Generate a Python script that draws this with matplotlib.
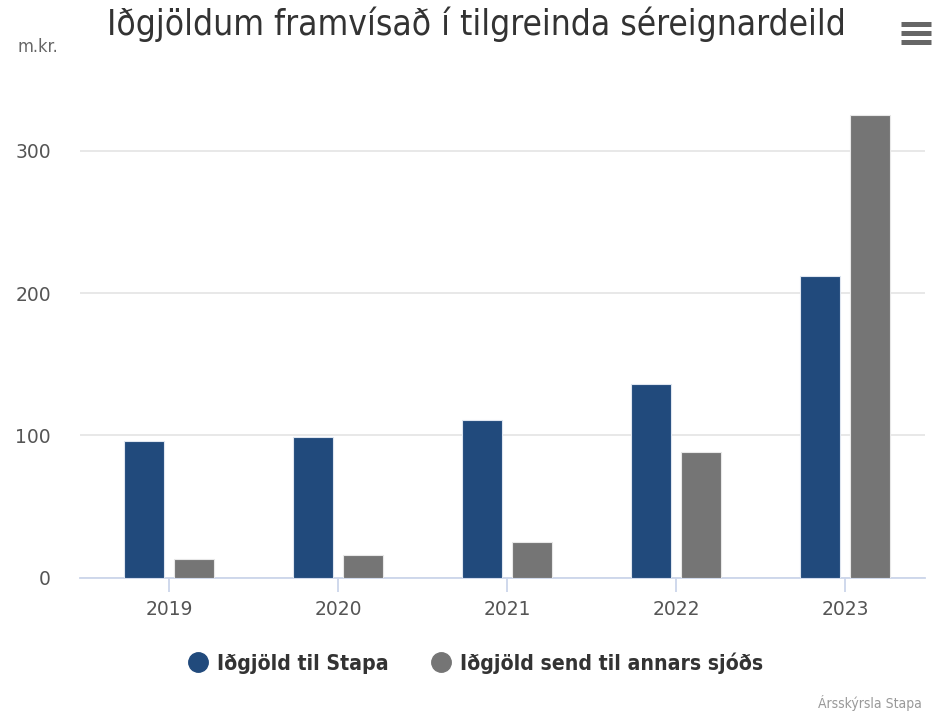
import matplotlib
matplotlib.use('Agg')
import matplotlib.pyplot as plt
import numpy as np
from matplotlib.lines import Line2D

years = ['2019', '2020', '2021', '2022', '2023']
til_stapa = [96, 99, 111, 136, 212]
send_annars = [13, 16, 25, 88, 325]

series_names = ['Iðgjöld til Stapa', 'Iðgjöld send til annars sjóðs']
colors = ['#214a7c', '#757575']

plt.rcParams['font.family'] = ['DejaVu Sans']

fig = plt.figure(figsize=(9.36, 7.16), dpi=100)
ax = fig.add_axes([80 / 936, 1 - 577.7 / 716, 845 / 936, 498 / 716])

x = np.arange(len(years))
w = 0.237
ax.bar(x - 0.15, til_stapa, width=w, color=colors[0], edgecolor='#dfe6f0', linewidth=0.8, zorder=3)
ax.bar(x + 0.15, send_annars, width=w, color=colors[1], edgecolor='#e8e8e8', linewidth=0.8, zorder=3)

ax.set_xlim(-0.527, len(years) - 0.527)
ax.set_ylim(0, 350)
ax.set_yticks([0, 100, 200, 300])
ax.set_xticks(x)
ax.set_xticklabels(years, fontsize=13.5, color='#555555')
ax.set_yticklabels(['0', '100', '200', '300'], fontsize=13.5, color='#555555')
ax.yaxis.grid(True, color='#e6e6e6', linewidth=1.3, zorder=0)
ax.set_axisbelow(True)
for s in ['top', 'right', 'left']:
    ax.spines[s].set_visible(False)
ax.spines['bottom'].set_color('#ccd6eb')
ax.spines['bottom'].set_linewidth(1.3)
ax.tick_params(axis='y', length=0, pad=21)
ax.tick_params(axis='x', length=10, color='#ccd6eb', width=1.3, pad=6)

fig.text(0.509, 0.966, 'Iðgjöldum framvísað í tilgreinda séreignardeild',
         ha='center', va='center', fontsize=25.3, color='#333333', fontstretch='condensed')
fig.text(0.019, 0.934, 'm.kr.', ha='left', va='center', fontsize=13, color='#666666',
         fontstretch='condensed')

# menu icon
for yy in [0.966, 0.9535, 0.941]:
    fig.add_artist(Line2D([0.963, 0.995], [yy, yy], color='#666666', linewidth=3.6,
                          solid_capstyle='butt', transform=fig.transFigure))

handles = [Line2D([], [], marker='o', linestyle='none', markersize=14,
                  markerfacecolor=c, markeredgecolor=c) for c in colors]
fig.legend(handles, series_names, loc='center', bbox_to_anchor=(0.5075, 0.074),
           ncol=2, frameon=False, handlelength=1.0, handletextpad=0.4, columnspacing=2.0,
           labelcolor='#333333',
           prop={'size': 15.2, 'weight': 'bold', 'stretch': 'condensed'})

fig.text(0.985, 0.018, 'Ársskýrsla Stapa', ha='right', va='center', fontsize=10,
         color='#999999', fontstretch='condensed')

fig.savefig('out.png', dpi=100)
